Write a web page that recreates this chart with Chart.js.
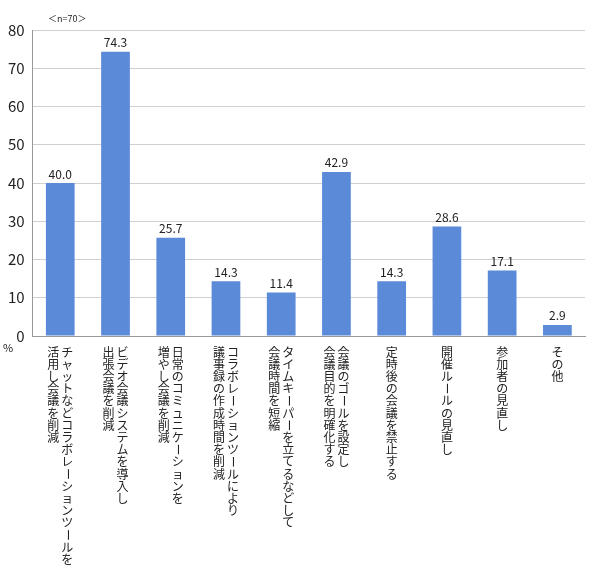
<!DOCTYPE html>
<html><head><meta charset="utf-8">
<script src="https://cdn.jsdelivr.net/npm/chart.js@4"></script>
<style>html,body{margin:0;background:#fff}#w{width:590px;height:569px}</style>
</head><body><div id="w"><canvas id="c"></canvas></div>
<script>
const categories = [
 ["チャットなどコラボレーションツールを","活用し会議を削減"],
 ["ビデオ会議システムを導入し","出張会議を削減"],
 ["日常のコミュニケーションを","増やし会議を削減"],
 ["コラボレーションツールにより","議事録の作成時間を削減"],
 ["タイムキーパーを立てるなどして","会議時間を短縮"],
 ["会議のゴールを設定し","会議目的を明確化する"],
 ["定時後の会議を禁止する"],
 ["開催ルールの見直し"],
 ["参加者の見直し"],
 ["その他"]
];
const values = [40.0,74.3,25.7,14.3,11.4,42.9,14.3,28.6,17.1,2.9];
const yTicks = [0,10,20,30,40,50,60,70,80];
const FONT = '"Noto Sans CJK JP", sans-serif';

const plug = {
  id:'vlab',
  afterDraw(chart){
    const ctx = chart.ctx, xs = chart.scales.x, ys = chart.scales.y;
    ctx.save();
    ctx.fillStyle = '#222';
    ctx.font = '12px ' + FONT;
    ctx.textAlign = 'center'; ctx.textBaseline = 'middle';
    const step = 12.2, colW = 14;
    categories.forEach((lines, i) => {
      const cx = xs.getPixelForTick(i);
      const n = lines.length;
      lines.forEach((s, j) => {
        const x = cx + ((n-1)/2 - j) * colW;
        let y = ys.bottom + 16;
        for (const ch of s) {
          if (ch === 'ー') {
            ctx.save(); ctx.translate(x, y); ctx.rotate(Math.PI/2);
            ctx.fillText(ch, 0, 0); ctx.restore();
          } else ctx.fillText(ch, x, y);
          y += step;
        }
      });
    });
    ctx.font = '11px ' + FONT;
    ctx.fillText('%', ys.left + 8, ys.bottom + 12);
    ctx.font = '9px ' + FONT;
    ctx.textAlign = 'left';
    ctx.fillText('＜n=70＞', 48, 19);
    ctx.restore();
  }
};

new Chart(document.getElementById('c'), {
  type:'bar',
  data:{ labels: categories.map(c=>c.join('')),
    datasets:[{ data: values, backgroundColor:'#5b8ad8', barPercentage:0.52, categoryPercentage:1 }]},
  plugins:[plug, {
    id:'vals',
    afterDatasetsDraw(chart){
      const ctx = chart.ctx, meta = chart.getDatasetMeta(0);
      ctx.save(); ctx.fillStyle='#222'; ctx.font='12px '+FONT;
      ctx.textAlign='center'; ctx.textBaseline='bottom';
      meta.data.forEach((b,i)=>ctx.fillText(values[i].toFixed(1), b.x, b.y-3));
      ctx.restore();
    }
  }],
  options:{
    responsive:true, maintainAspectRatio:false, animation:false,
    layout:{padding:{top:30,right:5,bottom:225,left:0}},
    plugins:{legend:{display:false}, tooltip:{enabled:false}},
    scales:{
      x:{ grid:{display:false}, border:{color:'#999'}, ticks:{display:false} },
      y:{ min:0, max:80, afterBuildTicks(s){ s.ticks = yTicks.map(v=>({value:v})); },
          grid:{color:'#d0d0d0', drawTicks:false}, border:{display:true,color:'#999'},
          ticks:{ font:{size:15, family:FONT}, color:'#222', padding:8 } }
    }
  }
});
</script></body></html>
